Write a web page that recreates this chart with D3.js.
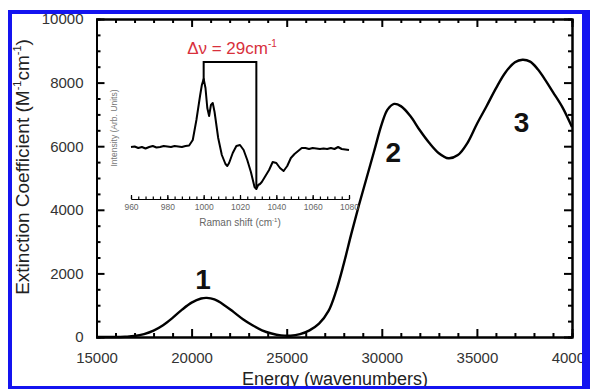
<!DOCTYPE html>
<head>
  <meta charset="utf-8">
  <title>Extinction spectrum</title>
  <style>
    body { margin: 0; background: #fff; }
    text { font-family: "Liberation Sans", Arial, sans-serif; }
  </style>
</head>

<body>
  <script src="https://d3js.org/d3.v7.min.js"></script>
  <script>
  // main absorption spectrum (energy in cm-1, extinction in M-1 cm-1)
  const energy = [15000, 16000, 16500, 17000, 17500, 18000, 18500, 19000, 19500, 20000,
    20500, 20800, 21200, 21700, 22200, 22700, 23200, 23700, 24200, 24700,
    25200, 25700, 26200, 26700, 27200, 27600, 28000, 28400, 28800, 29200,
    29600, 30000, 30300, 30650, 31000, 31500, 32000, 32500, 33000, 33500,
    34000, 34500, 35000, 35500, 36000, 36500, 37000, 37400, 37800, 38200,
    38600, 39000, 39500, 40000];
  const extinction = [0, 0, 10, 30, 90, 200, 370, 600, 860, 1080,
    1210, 1230, 1180, 1010, 790, 560, 370, 210, 110, 50,
    40, 90, 210, 420, 820, 1450, 2300, 3250, 4150, 5000,
    5850, 6700, 7150, 7330, 7260, 6950, 6500, 6100, 5780, 5620,
    5720, 6100, 6700, 7250, 7820, 8320, 8640, 8720, 8660, 8420,
    8080, 7700, 7220, 6600];

  // inset Raman difference spectrum
  const ramanShift = [960, 962, 964, 966, 968, 970, 972, 974, 976, 978,
    980, 982, 984, 986, 988, 990, 992, 994, 996, 998,
    999, 1000, 1001, 1002, 1003, 1004, 1005, 1006, 1008, 1010,
    1012, 1013, 1014, 1016, 1018, 1020, 1022, 1024, 1026, 1028,
    1029, 1030, 1031, 1032, 1034, 1036, 1038, 1040, 1042, 1044,
    1046, 1048, 1050, 1052, 1054, 1056, 1058, 1060, 1062, 1064,
    1066, 1068, 1070, 1072, 1074, 1076, 1078, 1080];
  const intensity = [53, 53.5, 52, 53, 51.5, 53, 54, 52.5, 53, 54,
    53.5, 53, 54, 53.5, 53, 54, 54.5, 60, 80, 104,
    115, 121, 112, 92, 84, 95, 97, 88, 62, 45,
    36, 34, 37, 47, 54, 55, 50, 40, 28, 13,
    11, 15, 16, 18, 24, 30, 38, 37, 32, 29,
    34, 42, 46, 49, 52, 52, 51, 52, 51.5, 51,
    51.5, 51, 52, 51, 53, 51, 50.5, 50];

  const bracket = [1000, 1029];
  const bracketTop = 138;
  const bracketEnds = [118, 12];

  const peakLabels = ["1", "2", "3"];
  const peakPos = [[20600, 1500], [30600, 5500], [37350, 6450]];

  const W = 590, H = 389;
  const svg = d3.select("body").append("svg")
    .attr("width", W).attr("height", H);

  const x = d3.scaleLinear().domain([15000, 40000]).range([96.5, 572]);
  const y = d3.scaleLinear().domain([0, 10000]).range([337, 19]);

  const xMajor = d3.range(15000, 40001, 5000);
  const xMinor = d3.range(15000, 40001, 1000).filter(v => v % 5000);
  const yMajor = d3.range(0, 10001, 2000);
  const yMinor = d3.range(0, 10001, 500).filter(v => v % 2000);

  function styleAxis(g) {
    g.selectAll("path, line").attr("stroke", "#000").attr("stroke-width", 2);
    g.selectAll("text").attr("fill", "#333").attr("font-size", 15)
      .attr("font-family", "Liberation Sans, Arial, sans-serif");
  }

  // minor ticks
  svg.append("g").attr("transform", "translate(0,337)")
    .call(d3.axisBottom(x).tickValues(xMinor).tickSize(-4).tickFormat(""))
    .call(styleAxis);
  svg.append("g").attr("transform", "translate(0,19)")
    .call(d3.axisTop(x).tickValues(xMinor).tickSize(-4).tickFormat(""))
    .call(styleAxis);
  svg.append("g").attr("transform", "translate(96.5,0)")
    .call(d3.axisLeft(y).tickValues(yMinor).tickSize(-4).tickFormat(""))
    .call(styleAxis);
  svg.append("g").attr("transform", "translate(572,0)")
    .call(d3.axisRight(y).tickValues(yMinor).tickSize(-4).tickFormat(""))
    .call(styleAxis);

  // major ticks
  svg.append("g").attr("transform", "translate(0,337)")
    .call(d3.axisBottom(x).tickValues(xMajor).tickSize(-8).tickSizeOuter(0)
      .tickPadding(15).tickFormat(d3.format("d")))
    .call(styleAxis);
  svg.append("g").attr("transform", "translate(0,19)")
    .call(d3.axisTop(x).tickValues(xMajor).tickSize(-8).tickSizeOuter(0).tickFormat(""))
    .call(styleAxis);
  svg.append("g").attr("transform", "translate(96.5,0)")
    .call(d3.axisLeft(y).tickValues(yMajor).tickSize(-8).tickSizeOuter(0)
      .tickPadding(13).tickFormat(d3.format("d")))
    .call(styleAxis);
  svg.append("g").attr("transform", "translate(572,0)")
    .call(d3.axisRight(y).tickValues(yMajor).tickSize(-8).tickSizeOuter(0).tickFormat(""))
    .call(styleAxis);

  // main curve
  const mainData = energy.map((e, i) => [e, extinction[i]]);
  svg.append("path")
    .datum(mainData)
    .attr("fill", "none")
    .attr("stroke", "#000")
    .attr("stroke-width", 2.4)
    .attr("d", d3.line().x(d => x(d[0])).y(d => y(d[1])).curve(d3.curveCatmullRom));

  // peak labels
  svg.selectAll(".peak")
    .data(peakLabels)
    .enter().append("text")
    .attr("class", "peak")
    .attr("x", (d, i) => x(peakPos[i][0]))
    .attr("y", (d, i) => y(peakPos[i][1]))
    .attr("text-anchor", "middle")
    .attr("font-size", 28)
    .attr("font-weight", "bold")
    .attr("fill", "#111")
    .text(d => d);

  // axis titles
  const yt = svg.append("text")
    .attr("transform", "translate(29,167) rotate(-90)")
    .attr("text-anchor", "middle")
    .attr("font-size", 19)
    .attr("fill", "#222");
  yt.append("tspan").text("Extinction Coefficient (M");
  yt.append("tspan").attr("font-size", 11).attr("dy", -8).text("-1");
  yt.append("tspan").attr("dy", 8).text("cm");
  yt.append("tspan").attr("font-size", 11).attr("dy", -8).text("-1");
  yt.append("tspan").attr("dy", 8).text(")");

  svg.append("text")
    .attr("x", 335).attr("y", 385)
    .attr("text-anchor", "middle")
    .attr("font-size", 18)
    .attr("fill", "#222")
    .text("Energy (wavenumbers)");

  // inset
  const xi = d3.scaleLinear().domain([960, 1080]).range([131, 349]);
  const yi = d3.scaleLinear().domain([0, 140]).range([200, 60]);

  const inset = svg.append("g");
  inset.append("g").attr("transform", "translate(0,199)")
    .call(d3.axisBottom(xi).tickValues(d3.range(960, 1081, 4)).tickSize(-2.5)
      .tickSizeOuter(0).tickFormat(""))
    .call(g => g.selectAll("path, line").attr("stroke", "#000").attr("stroke-width", 1.2));
  inset.append("g").attr("transform", "translate(0,199)")
    .call(d3.axisBottom(xi).tickValues(d3.range(960, 1081, 20)).tickSize(-4)
      .tickSizeOuter(0).tickPadding(5).tickFormat(d3.format("d")))
    .call(g => {
      g.selectAll("path, line").attr("stroke", "#000").attr("stroke-width", 1.2);
      g.selectAll("text").attr("fill", "#666").attr("font-size", 8.5)
        .attr("font-family", "Liberation Sans, Arial, sans-serif");
    });

  const rl = inset.append("text")
    .attr("x", 240).attr("y", 226)
    .attr("text-anchor", "middle")
    .attr("font-size", 10)
    .attr("fill", "#666");
  rl.append("tspan").text("Raman shift (cm");
  rl.append("tspan").attr("font-size", 6).attr("dy", -4).text("-1");
  rl.append("tspan").attr("dy", 4).text(")");

  inset.append("text")
    .attr("transform", "translate(117,128) rotate(-90)")
    .attr("text-anchor", "middle")
    .attr("font-size", 8.5)
    .attr("fill", "#777")
    .text("Intensity (Arb. Units)");

  const ramanData = ramanShift.map((s, i) => [s, intensity[i]]);
  inset.append("path")
    .datum(ramanData)
    .attr("fill", "none")
    .attr("stroke", "#000")
    .attr("stroke-width", 2)
    .attr("stroke-linejoin", "round")
    .attr("d", d3.line().x(d => xi(d[0])).y(d => yi(d[1])));

  // bracket marking the splitting
  inset.append("path")
    .attr("fill", "none")
    .attr("stroke", "#000")
    .attr("stroke-width", 2)
    .attr("d", d3.line()([
      [xi(bracket[0]), yi(bracketEnds[0])],
      [xi(bracket[0]), yi(bracketTop)],
      [xi(bracket[1]), yi(bracketTop)],
      [xi(bracket[1]), yi(bracketEnds[1])]
    ]));

  const dl = inset.append("text")
    .attr("x", 232).attr("y", 54)
    .attr("text-anchor", "middle")
    .attr("font-size", 17)
    .attr("fill", "#d8303c");
  dl.append("tspan").text("\u0394\u03bd = 29cm");
  dl.append("tspan").attr("font-size", 10).attr("dy", -7).text("-1");

  // blue highlight frame
  const blue = "#1414f0";
  svg.append("rect").attr("x", 8).attr("y", 10).attr("width", 4).attr("height", 379).attr("fill", blue);
  svg.append("rect").attr("x", 8).attr("y", 10).attr("width", 582).attr("height", 4).attr("fill", blue);
  svg.append("rect").attr("x", 582).attr("y", 10).attr("width", 8).attr("height", 379).attr("fill", blue);
  svg.append("rect").attr("x", 8).attr("y", 386).attr("width", 582).attr("height", 3).attr("fill", blue);
  </script>
</body>
</html>
